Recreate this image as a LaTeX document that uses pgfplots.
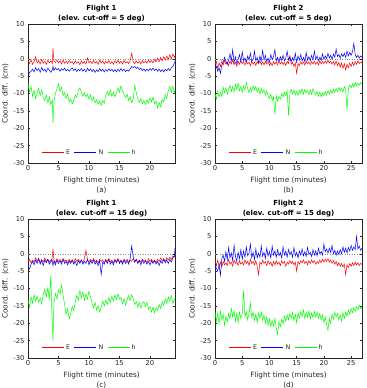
\documentclass[border=0pt]{standalone}
\usepackage{fontspec}
\setmainfont{DejaVu Sans}
\usepackage{pgfplots}
\usepackage{pgfplotstable}
\pgfplotsset{compat=1.18}

\definecolor{axgray}{rgb}{0.15,0.15,0.15}
\definecolor{cE}{rgb}{1,0,0}
\definecolor{cN}{rgb}{0,0,1}
\definecolor{cH}{rgb}{0,1,0}

% Flight 1, elevation cut-off 5 deg: t [min], E, N, h [cm]
\pgfplotstableread{
t E N h
0.00 -0.6 -5.2 -7.0
0.25 -1.4 -4.0 -9.5
0.50 -0.3 -3.6 -8.0
0.75 -1.6 -3.0 -10.8
1.00 -0.8 -3.8 -9.2
1.25 0.6 -2.6 -11.5
1.50 -1.2 -3.4 -9.8
1.75 -0.5 -2.8 -8.5
2.00 -1.5 -3.9 -10.6
2.25 -0.2 -2.5 -9.0
2.50 -1.3 -3.5 -11.2
2.75 -0.7 -3.0 -12.0
3.00 -1.6 -3.8 -10.4
3.25 -0.4 -2.7 -12.6
3.50 -1.2 -3.3 -11.0
3.75 -0.6 -3.9 -13.2
4.00 -1.4 -3.1 -11.8
4.10 3.0 -2.2 -18.5
4.25 -0.5 -3.4 -12.5
4.50 -1.1 -2.6 -10.0
4.75 -0.3 -3.2 -8.6
5.00 -1.2 -2.8 -7.2
5.25 -0.6 -3.6 -9.4
5.50 -1.5 -2.9 -8.2
5.75 -0.4 -3.3 -10.6
6.00 -1.3 -2.7 -9.8
6.25 -0.7 -3.5 -11.4
6.50 -1.4 -3.0 -10.2
6.75 -0.5 -3.6 -12.4
7.00 -1.2 -3.1 -11.6
7.25 -0.8 -2.6 -13.0
7.50 -1.6 -3.4 -12.0
7.75 -0.6 -2.9 -10.4
8.00 -1.3 -3.7 -11.2
8.25 -0.9 -3.0 -9.0
8.50 -1.7 -3.5 -8.4
8.75 -0.6 -2.8 -9.6
9.00 -1.4 -3.6 -10.8
9.25 -0.8 -3.0 -9.8
9.50 -1.5 -3.8 -11.0
9.75 0.2 -2.7 -10.2
10.00 -1.2 -3.5 -11.6
10.25 -0.7 -2.9 -10.4
10.50 -1.4 -3.7 -12.2
10.75 -0.5 -3.1 -11.0
11.00 -1.3 -3.9 -12.6
11.25 -0.8 -3.2 -11.8
11.50 -1.6 -3.7 -13.0
11.75 -0.4 -2.8 -12.2
12.00 -1.2 -3.6 -13.4
12.25 -0.6 -3.0 -12.0
12.50 -1.5 -3.8 -12.8
12.75 -0.7 -3.1 -10.6
13.00 -1.3 -3.6 -9.4
13.25 -0.5 -2.9 -10.6
13.50 -1.4 -3.5 -9.0
13.75 -0.8 -3.0 -10.8
14.00 -1.6 -3.7 -9.6
14.25 -0.6 -3.1 -11.0
14.50 -1.2 -3.8 -9.8
14.75 -0.4 -3.0 -8.4
15.00 -1.3 -3.6 -9.6
15.25 -0.7 -2.8 -7.8
15.50 -1.5 -3.5 -9.2
15.75 -0.5 -3.0 -10.4
16.00 -1.2 -3.7 -11.2
16.25 -0.8 -3.2 -10.2
16.50 -1.4 -3.6 -12.0
16.75 -0.6 -2.9 -11.0
17.00 1.6 -2.2 -12.6
17.25 -0.9 -2.6 -11.6
17.50 -1.4 -2.2 -7.6
17.75 -0.6 -2.8 -9.8
18.00 -1.3 -2.4 -11.6
18.25 -0.7 -3.1 -12.6
18.50 -1.5 -2.7 -11.4
18.75 -0.5 -3.4 -13.0
19.00 -1.2 -2.9 -12.0
19.25 -0.6 -3.6 -13.2
19.50 -1.3 -3.0 -11.8
19.75 -0.4 -3.5 -12.8
20.00 -1.1 -2.8 -11.2
20.25 -0.5 -3.3 -12.4
20.50 -1.2 -2.7 -11.0
20.75 -0.2 -3.4 -13.0
21.00 -0.9 -2.9 -12.2
21.25 0.2 -3.6 -14.2
21.50 -0.8 -3.0 -12.6
21.75 0.4 -3.7 -13.8
22.00 -0.6 -3.1 -11.6
22.25 0.6 -3.8 -12.4
22.50 -0.4 -3.0 -10.4
22.75 0.8 -3.5 -11.4
23.00 -0.2 -2.8 -9.2
23.25 1.2 -3.4 -8.0
23.50 0.0 -2.6 -9.6
23.75 1.4 -2.2 -7.8
24.00 0.4 -1.2 -10.0
24.10 0.8 -0.8 -9.0
}\fltAfive

% Flight 2, elevation cut-off 5 deg
\pgfplotstableread{
t E N h
0.00 -1.5 -3.0 -10.2
0.25 -0.8 -2.2 -11.6
0.50 -2.8 -3.6 -9.4
0.75 -1.2 -2.6 -11.0
1.00 -2.2 -4.2 -9.6
1.25 -0.6 -1.8 -10.8
1.50 -1.8 -1.0 -8.2
1.75 -0.4 0.4 -9.8
2.00 -1.6 -0.8 -8.4
2.25 -0.9 -1.6 -10.2
2.50 -2.0 -0.4 -8.8
2.75 -0.7 1.4 -7.6
3.00 -1.5 -0.6 -9.4
3.25 -0.3 2.6 -8.0
3.50 -1.7 -1.2 -9.6
3.75 -1.0 0.6 -7.4
4.00 -2.1 -1.4 -8.8
4.25 -0.8 -0.2 -7.0
4.50 -1.6 1.2 -9.2
4.75 -0.5 -0.8 -8.0
5.00 -1.4 2.0 -9.6
5.25 -0.9 -0.6 -7.8
5.50 -1.8 0.2 -9.0
5.75 -0.6 -1.0 -6.8
6.00 -1.5 0.8 -8.6
6.25 -1.0 -0.4 -9.8
6.50 -2.0 1.6 -8.2
6.75 -0.7 -0.8 -9.4
7.00 -1.6 -0.2 -7.8
7.25 -1.0 2.2 -9.0
7.50 -1.9 -0.6 -8.0
7.75 -0.8 0.4 -9.6
8.00 -1.4 -1.2 -8.4
8.25 -0.6 0.8 -10.2
8.50 -1.7 -0.6 -8.6
8.75 -0.9 2.4 -9.8
9.00 -1.8 -0.4 -9.0
9.25 -0.7 1.0 -10.4
9.50 -1.5 -0.8 -9.2
9.75 -0.8 0.2 -10.8
10.00 -1.9 -1.0 -11.4
10.25 -1.1 1.2 -10.2
10.50 -2.0 -0.2 -12.0
10.75 -0.8 0.6 -11.0
11.00 -1.6 2.6 -16.0
11.25 -0.9 -0.6 -10.6
11.50 -1.8 0.4 -12.2
11.75 -0.6 -0.8 -10.8
12.00 -1.5 0.6 -11.6
12.25 -0.9 -0.4 -10.0
12.50 -1.7 1.0 -11.0
12.75 -1.0 -0.6 -9.6
13.00 -1.9 0.2 -10.6
13.25 -0.7 2.2 -9.2
13.50 -1.4 -0.4 -16.2
13.75 0.8 0.6 -10.0
14.00 -1.6 -0.8 -8.8
14.25 -1.0 0.4 -10.2
14.50 -2.2 -0.6 -9.0
14.75 -1.2 1.6 -10.4
15.00 -4.2 -1.0 -9.4
15.25 -1.4 0.8 -10.6
15.50 -2.0 -0.4 -9.0
15.75 -0.8 1.2 -10.0
16.00 -1.6 -0.6 -8.6
16.25 -0.9 0.4 -10.2
16.50 -1.8 -0.8 -8.8
16.75 -0.6 1.8 -9.8
17.00 -1.4 -0.4 -9.2
17.25 -0.9 0.6 -10.4
17.50 -1.7 -0.6 -9.0
17.75 -0.8 1.0 -10.2
18.00 -1.5 -0.4 -8.6
18.25 -0.7 2.2 -9.6
18.50 -1.6 -0.2 -10.4
18.75 -0.9 0.8 -9.4
19.00 -1.8 -0.6 -10.8
19.25 -0.6 0.4 -9.6
19.50 -1.5 -0.4 -11.0
19.75 -0.8 1.4 -9.8
20.00 -1.4 -0.2 -10.6
20.25 -0.6 0.8 -9.4
20.50 -1.3 0.0 -10.4
20.75 -0.4 1.6 -9.2
21.00 -1.2 0.2 -10.2
21.25 -0.7 1.0 -9.0
21.50 -1.6 -0.2 -10.0
21.75 -0.8 1.4 -8.8
22.00 -1.8 0.4 -9.6
22.25 -0.6 2.8 -8.6
22.50 -2.0 0.6 -9.4
22.75 -1.0 1.2 -8.2
23.00 -2.4 0.2 -9.2
23.25 -1.2 1.4 -8.4
23.50 -2.8 0.6 -9.6
23.75 -1.4 1.6 -8.0
24.00 -3.2 0.4 -9.0
24.25 -1.6 2.2 -14.6
24.50 -2.6 0.8 -8.6
24.75 -1.2 1.8 -7.6
25.00 -2.2 1.0 -8.4
25.25 -1.0 2.0 -7.2
25.50 -2.0 4.4 -8.2
25.75 -0.8 1.2 -6.8
26.00 -1.6 0.4 -7.8
26.25 -0.6 1.0 -7.0
26.50 -1.4 0.2 -7.6
26.75 -0.9 0.8 -6.8
27.00 -1.2 0.4 -7.4
}\fltBfive

% Flight 1, elevation cut-off 15 deg
\pgfplotstableread{
t E N h
0.00 -2.4 -3.8 -13.2
0.25 -1.6 -4.4 -15.4
0.50 -2.6 -3.0 -12.4
0.75 -1.8 -2.2 -14.2
1.00 -2.4 -3.2 -11.8
1.25 -1.2 -1.8 -13.6
1.50 -2.2 -2.8 -12.2
1.75 -1.4 -1.4 -14.0
2.00 -2.6 -3.0 -12.8
2.25 -1.6 -2.0 -14.4
2.50 -2.4 -3.4 -11.6
2.75 -1.2 -1.8 -10.2
3.00 -2.2 -2.6 -12.4
3.25 -1.6 -1.6 -9.8
3.50 -2.4 -3.0 -13.0
3.75 -1.8 -2.2 -6.2
3.90 -2.2 -1.6 -16.0
4.10 1.4 -3.4 -25.0
4.25 -1.8 -2.0 -14.2
4.50 -2.6 -3.2 -11.4
4.75 -1.4 -1.8 -13.0
5.00 -2.2 -2.8 -10.4
5.25 -1.6 -2.0 -11.6
5.50 -2.4 -3.0 -9.0
5.75 -1.4 -1.6 -12.0
6.00 -2.2 -2.8 -14.6
6.25 -1.8 -2.2 -17.4
6.50 -2.6 -3.2 -15.8
6.75 -1.6 -2.0 -18.8
7.00 -2.4 -2.8 -17.0
7.25 -1.8 -1.8 -15.2
7.50 -2.6 -3.0 -16.4
7.75 -1.4 -2.2 -13.8
8.00 -2.2 -3.4 -12.0
8.25 -1.6 -2.0 -13.4
8.50 -2.4 -2.8 -10.6
8.75 -1.8 -1.8 -12.6
9.00 -2.6 -3.0 -11.0
9.25 -1.4 -2.2 -13.4
9.50 1.0 -2.8 -11.6
9.75 -1.8 -1.6 -13.0
10.00 -2.4 -3.2 -10.8
10.25 -1.6 -2.0 -12.4
10.50 -2.2 -2.8 -14.2
10.75 -1.4 -1.8 -15.6
11.00 -2.4 -3.0 -14.0
11.25 -1.8 -2.2 -16.2
11.50 -2.6 -3.4 -15.0
11.75 -1.6 -2.0 -16.8
12.00 -2.2 -6.0 -15.4
12.25 -1.8 -2.4 -13.6
12.50 -2.6 -3.0 -15.0
12.75 -1.6 -1.8 -13.4
13.00 -2.2 -2.8 -14.6
13.25 -1.4 -1.6 -12.6
13.50 -2.4 -3.0 -14.0
13.75 -1.8 -2.2 -12.2
14.00 -2.6 -3.2 -13.6
14.25 -1.6 -1.8 -11.8
14.50 -2.2 -2.6 -13.2
14.75 -1.4 -1.6 -11.6
15.00 -2.4 -2.8 -13.0
15.25 -1.8 -2.0 -12.6
15.50 -2.6 -3.0 -14.4
15.75 -1.6 -1.8 -13.0
16.00 -2.2 -2.8 -14.8
16.25 -1.6 -2.0 -13.2
16.50 -2.4 -3.0 -12.0
16.75 -1.8 -1.4 -13.4
17.00 -2.2 2.2 -11.8
17.25 -1.4 -0.8 -13.0
17.50 -2.4 -2.4 -14.6
17.75 -1.6 -1.6 -13.8
18.00 -2.6 -2.8 -15.4
18.25 -1.8 -2.0 -14.0
18.50 -2.4 -3.2 -15.6
18.75 -1.6 -1.8 -14.2
19.00 -2.2 -2.8 -13.8
19.25 -1.8 -2.0 -15.2
19.50 -2.6 -3.0 -14.0
19.75 -1.4 -2.2 -16.0
20.00 -2.2 -3.2 -15.2
20.25 -1.6 -2.0 -16.8
20.50 -2.4 -2.8 -15.4
20.75 -1.8 -2.0 -17.0
21.00 -2.6 -3.0 -15.6
21.25 -1.6 -2.2 -16.4
21.50 -2.2 -3.4 -14.6
21.75 -1.2 -2.0 -15.8
22.00 -2.0 -2.8 -13.8
22.25 -1.4 -1.6 -14.8
22.50 -2.2 -2.6 -13.0
22.75 -1.2 -1.8 -14.2
23.00 -1.8 -2.8 -12.4
23.25 -1.0 -1.6 -13.6
23.50 -1.6 -2.4 -12.0
23.75 -0.6 -1.2 -14.4
24.00 -1.0 -0.6 -13.2
24.10 -0.4 1.6 -12.8
}\fltAfifteen

% Flight 2, elevation cut-off 15 deg
\pgfplotstableread{
t E N h
0.00 -2.0 -2.6 -16.8
0.25 -3.4 -4.2 -19.4
0.50 -1.8 -5.0 -17.0
0.75 -3.6 -3.2 -20.2
1.00 -2.4 -6.2 -16.6
1.25 -3.8 -1.4 -19.0
1.50 -2.2 -0.4 -17.4
1.75 -3.2 -2.2 -20.6
2.00 -2.6 0.6 -18.0
2.25 -3.4 -1.8 -19.6
2.50 -1.6 1.8 -17.2
2.75 -3.0 -1.2 -18.8
3.00 -2.4 0.2 -15.8
3.25 -3.6 -2.0 -18.2
3.50 -1.8 2.4 -16.4
3.75 -2.8 -0.8 -19.4
4.00 -2.2 -2.0 -17.2
4.25 -3.4 0.4 -19.8
4.50 -2.0 -1.4 -16.8
4.75 -3.0 1.2 -18.6
5.00 -2.4 -1.6 -17.4
5.25 -3.2 0.8 -10.6
5.50 -1.8 -1.0 -18.2
5.75 -2.8 2.0 -16.6
6.00 -2.2 -0.6 -19.0
6.25 -3.4 0.2 -17.2
6.50 -1.6 2.8 -14.2
6.75 -2.8 -1.2 -18.4
7.00 -2.2 0.4 -16.8
7.25 -3.2 -1.6 -19.2
7.50 -2.0 1.4 -17.4
7.75 -3.6 -1.2 -19.8
8.00 -6.0 0.2 -17.0
8.25 -2.4 -1.0 -18.6
8.50 -3.0 2.2 -16.8
8.75 -1.8 -0.8 -19.2
9.00 -2.8 0.4 -17.6
9.25 -2.2 -1.4 -20.0
9.50 -3.4 1.6 -18.2
9.75 -2.0 -0.6 -20.6
10.00 -3.0 0.6 -18.8
10.25 -2.4 -1.2 -21.0
10.50 -3.6 2.2 -19.2
10.75 -2.2 -0.4 -20.8
11.00 -3.2 0.8 -18.6
11.25 -2.0 -1.0 -21.4
11.50 -3.0 1.2 -23.2
11.75 -2.4 -0.6 -19.6
12.00 -3.4 0.4 -21.0
12.25 -2.0 -1.2 -18.8
12.50 -2.8 2.0 -20.2
12.75 -2.2 -0.4 -18.0
13.00 -3.6 0.8 -19.4
13.25 -2.4 -1.0 -17.6
13.50 -3.0 1.2 -19.0
13.75 -2.0 -0.2 -17.2
14.00 -2.8 0.6 -18.6
14.25 -2.2 -1.0 -16.8
14.50 -3.2 1.8 -19.2
14.75 -2.4 -0.6 -17.4
15.00 -5.0 0.4 -19.8
15.25 -2.2 -1.2 -17.0
15.50 -3.0 0.8 -18.4
15.75 -2.0 -0.4 -16.6
16.00 -2.6 1.4 -18.0
16.25 -1.8 -0.6 -16.2
16.50 -2.8 0.6 -18.6
16.75 -2.2 -0.8 -16.8
17.00 -3.2 1.8 -18.2
17.25 -2.0 -0.2 -16.4
17.50 -2.8 0.4 -18.8
17.75 -1.8 -0.8 -17.0
18.00 -2.6 1.2 -18.4
18.25 -2.0 -0.4 -16.6
18.50 -3.0 0.8 -18.2
18.75 -2.2 -0.6 -16.8
19.00 -2.8 1.6 -18.6
19.25 -1.8 0.0 -17.2
19.50 -2.6 0.6 -19.0
19.75 -1.6 -0.4 -17.6
20.00 -2.4 2.8 -19.8
20.25 -1.6 0.6 -18.2
20.50 -2.2 1.4 -20.4
20.75 -1.4 0.2 -22.0
21.00 -2.4 1.6 -18.6
21.25 -1.8 0.4 -20.0
21.50 -2.8 2.4 -17.4
21.75 -2.0 0.0 -18.8
22.00 -3.0 1.0 -16.8
22.25 -2.2 -0.4 -18.2
22.50 -3.4 0.8 -17.2
22.75 -2.6 -0.2 -19.0
23.00 -3.6 1.2 -17.6
23.25 -2.8 0.0 -19.4
23.50 -3.8 2.0 -17.0
23.75 -3.0 0.4 -18.6
24.00 -6.0 1.6 -16.8
24.25 -3.2 0.2 -18.0
24.50 -4.0 1.8 -16.2
24.75 -2.8 0.8 -17.4
25.00 -3.6 2.4 -15.8
25.25 -2.6 1.0 -17.0
25.50 -3.4 2.0 -15.4
25.75 -2.4 1.2 -16.6
26.00 -3.2 5.0 -15.2
26.25 -2.6 1.4 -16.2
26.50 -3.4 2.2 -14.8
26.75 -2.8 1.0 -15.8
27.00 -3.0 1.6 -15.2
}\fltBfifteen

\pgfplotsset{
  panel/.style={
    scale only axis, width=147bp, height=139bp,
    ymin=-30, ymax=10, ytick={-30,-25,...,10},
    xmin=0,
    /pgf/number format/assume math mode=true,
    font=\fontsize{6.8}{8}\selectfont,
    tick label style={font=\fontsize{6.8}{8}\selectfont, text=axgray},
    xticklabel style={yshift=1bp},
    label style={font=\fontsize{7.3}{10.3}\selectfont, text=axgray},
    xlabel style={align=center, yshift=1bp},
    ylabel style={yshift=-2bp},
    title style={at={(0.5,1)}, anchor=south, yshift=-5bp, inner sep=1bp,
      align=center, font=\bfseries\fontsize{7}{10}\selectfont, text=black},
    axis line style={axgray, line width=0.4pt},
    tick style={axgray, line width=0.4pt},
    major tick length=2.2bp,
    tick align=inside,
    ylabel={Coord. diff. (cm)},
    legend columns=3,
    legend style={draw=none, fill=none, at={(0.42,0.075)}, anchor=center,
      font=\fontsize{6.3}{8}\selectfont, text=axgray,
      /tikz/every even column/.append style={column sep=2bp},
      inner sep=0pt},
    legend image code/.code={\draw[#1, line width=0.45pt] (0bp,0bp) -- (22bp,0bp);},
    every axis plot/.append style={line width=0.5pt},
  },
  f1/.style={xmax=24.1, xtick={0,5,10,15,20}},
  f2/.style={xmax=27, xtick={0,5,10,15,20,25}},
  zeroline/.style={black!45, dotted, line width=0.35pt, forget plot},
}

\begin{document}
\begin{tikzpicture}
\path[use as bounding box] (0,0) rectangle (367bp,-388bp);

% (a) Flight 1, 5 deg
\begin{axis}[panel, f1, at={(28bp,-163bp)}, anchor=south west,
  title={Flight 1\\(elev. cut-off = 5 deg)},
  xlabel={Flight time (minutes)\\(a)}]
\addplot[zeroline] coordinates {(0,0) (24.1,0)};
\addplot[cE] table[x=t, y=E] {\fltAfive};
\addplot[cN] table[x=t, y=N] {\fltAfive};
\addplot[cH] table[x=t, y=h] {\fltAfive};
\legend{E, N, h}
\end{axis}

% (b) Flight 2, 5 deg
\begin{axis}[panel, f2, at={(215bp,-163bp)}, anchor=south west,
  title={Flight 2\\(elev. cut-off = 5 deg)},
  xlabel={Flight time (minutes)\\(b)}]
\addplot[zeroline] coordinates {(0,0) (27,0)};
\addplot[cE] table[x=t, y=E] {\fltBfive};
\addplot[cN] table[x=t, y=N] {\fltBfive};
\addplot[cH] table[x=t, y=h] {\fltBfive};
\legend{E, N, h}
\end{axis}

% (c) Flight 1, 15 deg
\begin{axis}[panel, f1, at={(28bp,-358bp)}, anchor=south west,
  title={Flight 1\\(elev. cut-off = 15 deg)},
  xlabel={Flight time (minutes)\\(c)}]
\addplot[zeroline] coordinates {(0,0) (24.1,0)};
\addplot[cE] table[x=t, y=E] {\fltAfifteen};
\addplot[cN] table[x=t, y=N] {\fltAfifteen};
\addplot[cH] table[x=t, y=h] {\fltAfifteen};
\legend{E, N, h}
\end{axis}

% (d) Flight 2, 15 deg
\begin{axis}[panel, f2, at={(215bp,-358bp)}, anchor=south west,
  title={Flight 2\\(elev. cut-off = 15 deg)},
  xlabel={Flight time (minutes)\\(d)}]
\addplot[zeroline] coordinates {(0,0) (27,0)};
\addplot[cE] table[x=t, y=E] {\fltBfifteen};
\addplot[cN] table[x=t, y=N] {\fltBfifteen};
\addplot[cH] table[x=t, y=h] {\fltBfifteen};
\legend{E, N, h}
\end{axis}
\end{tikzpicture}
\end{document}
